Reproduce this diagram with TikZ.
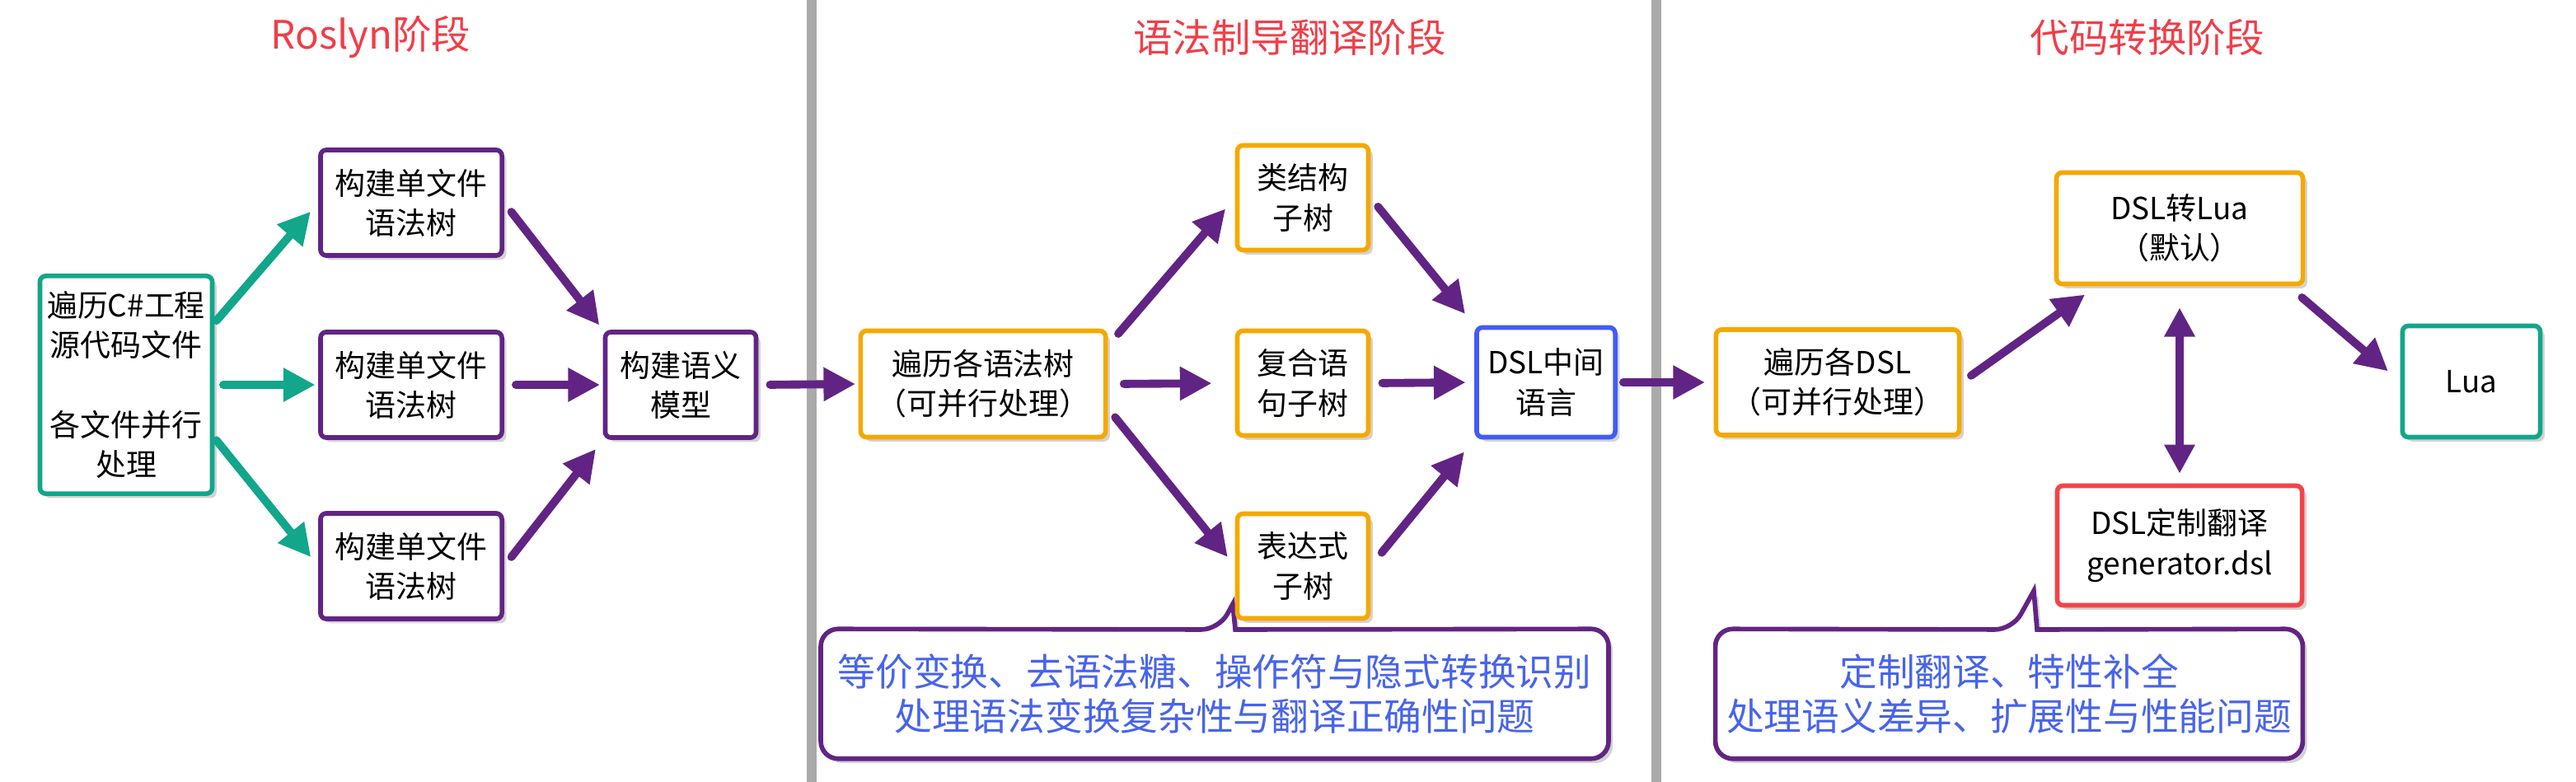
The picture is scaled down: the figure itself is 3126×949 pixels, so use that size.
\documentclass[tikz,border=0pt]{standalone}
\usepackage{fontspec}
\setmainfont{Noto Sans CJK SC}
\usepackage{tikz}
\usetikzlibrary{arrows.meta,shadows,backgrounds}
\definecolor{StageRed}{RGB}{240,62,72}
\definecolor{FlowTeal}{RGB}{18,166,138}
\definecolor{FlowPurple}{RGB}{98,36,132}
\definecolor{StepOrange}{RGB}{245,168,0}
\definecolor{DslBlue}{RGB}{66,92,245}
\definecolor{GenRed}{RGB}{242,68,72}
\definecolor{NoteBlue}{RGB}{72,100,235}
\definecolor{DividerGray}{RGB}{170,170,170}

\begin{document}
\begin{tikzpicture}[
x=0.01cm, y=-0.01cm,
box/.style={
draw,
line width=1.6pt,
rounded corners=2pt,
fill=white,
align=center,
inner sep=0pt,
font=\fontsize{10.5pt}{13.7pt}\selectfont,
drop shadow={shadow xshift=1.5pt,shadow yshift=-1.5pt,opacity=0.35}
},
srcbox/.style={box,draw=FlowTeal},
treebox/.style={box,draw=FlowPurple,minimum width=2.2cm,minimum height=1.28cm},
stepbox/.style={box,draw=StepOrange},
dslbox/.style={box,draw=DslBlue},
genbox/.style={box,draw=GenRed},
title/.style={text=StageRed,font=\fontsize{13.5pt}{16pt}\selectfont},
divider/.style={draw=DividerGray,line width=3.4pt},
flow/.style={
line width=2.8pt,
line cap=round,
-{Triangle[length=11pt,width=11pt]},
shorten <=4pt,
shorten >=4pt
},
garrow/.style={flow,draw=FlowTeal},
parrow/.style={flow,draw=FlowPurple},
note/.style={
text=NoteBlue,
align=center,
inner sep=0pt,
minimum height=1.56cm,
font=\fontsize{13pt}{15.4pt}\selectfont
},
noteline/.style={
draw=FlowPurple,
line width=1.6pt,
fill=white,
drop shadow={shadow xshift=1.5pt,shadow yshift=-1.5pt,opacity=0.35}
}
]
\useasboundingbox (0,0) rectangle (3126,949);

% stage dividers
\draw[divider] (985,0) -- (985,949);
\draw[divider] (2010,0) -- (2010,949);

% stage titles
\node[title] (t1) at (450,45) {Roslyn阶段};
\node[title] (t2) at (1565,45) {语法制导翻译阶段};
\node[title] (t3) at (2606,45) {代码转换阶段};

% Roslyn
\node[srcbox,minimum width=2.09cm,minimum height=2.64cm] (src) at (153,467)
{遍历C\#工程\\源代码文件\\[13.7pt]各文件并行\\处理};
\node[treebox] (tree1) at (499,246) {构建单文件\\语法树};
\node[treebox] (tree2) at (499,467) {构建单文件\\语法树};
\node[treebox] (tree3) at (499,687) {构建单文件\\语法树};
\node[box,draw=FlowPurple,minimum width=1.83cm,minimum height=1.28cm] (sem) at (826,467) {构建语义\\模型};

% syntax directed translation
\node[stepbox,minimum width=2.97cm,minimum height=1.29cm] (walk) at (1193,466) {遍历各语法树\\（可并行处理）};
\node[stepbox,minimum width=1.59cm,minimum height=1.27cm] (cls) at (1581,240) {类结构\\子树};
\node[stepbox,minimum width=1.59cm,minimum height=1.27cm] (cmp) at (1581,465) {复合语\\句子树};
\node[stepbox,minimum width=1.59cm,minimum height=1.27cm] (expr) at (1581,687) {表达式\\子树};
\node[dslbox,minimum width=1.68cm,minimum height=1.33cm] (dsl) at (1876,464) {DSL中间\\语言};

% code conversion
\node[stepbox,minimum width=2.95cm,minimum height=1.28cm] (walkdsl) at (2230,464) {遍历各DSL\\（可并行处理）};
\node[stepbox,minimum width=2.99cm,minimum height=1.35cm] (tolua) at (2645,277) {DSL转Lua\\（默认）};
\node[srcbox,minimum width=1.67cm,minimum height=1.35cm] (lua) at (2999,463) {Lua};
\node[genbox,minimum width=2.97cm,minimum height=1.45cm] (custom) at (2645,662) {DSL定制翻译\\generator.dsl};

% notes
\node[note,minimum width=9.54cm] (note1) at (1474,842)
{等价变换、去语法糖、操作符与隐式转换识别\\处理语法变换复杂性与翻译正确性问题};
\node[note,minimum width=7.11cm] (note2) at (2438,842)
{定制翻译、特性补全\\处理语义差异、扩展性与性能问题};
\coordinate (tip1) at (1496,733);
\coordinate (tip2) at (2468,717);
\begin{scope}[on background layer]
\draw[noteline] (note1.west) [rounded corners=6pt] -- (note1.north west) -- (1479,764)
[sharp corners] -- (tip1) -- (1499,764) [rounded corners=6pt] -- (note1.north east)
-- (note1.south east) -- (note1.south west) -- cycle;
\draw[noteline] (note2.west) [rounded corners=6pt] -- (note2.north west) -- (2442,764)
[sharp corners] -- (tip2) -- (2472,764) [rounded corners=6pt] -- (note2.north east)
-- (note2.south east) -- (note2.south west) -- cycle;
\end{scope}

% arrows
\draw[garrow,shorten <=1pt] (src.35) -- (tree1.west);
\draw[garrow,shorten <=3pt,shorten >=1pt] (src.east) -- (tree2.west);
\draw[garrow,shorten <=1pt] (src.-31) -- (tree3.west);
\draw[parrow,shorten >=2pt] (tree1.east) -- (sem.north west);
\draw[parrow,shorten >=1pt] (tree2.east) -- (sem.west);
\draw[parrow] (tree3.east) -- (sem.south west);
\draw[parrow,shorten >=1pt] (sem.east) -- (walk.west);
\draw[parrow,shorten <=5.5pt,shorten >=5pt] (walk.17) -- (cls.west);
\draw[parrow,shorten <=5.5pt,shorten >=8pt] (walk.east) -- (cmp.west);
\draw[parrow] (walk.-11) -- (expr.west);
\draw[parrow,shorten >=5pt] (cls.east) -- (dsl.north west);
\draw[parrow,shorten >=3pt] (cmp.east) -- (dsl.west);
\draw[parrow,shorten <=6pt,shorten >=5.5pt] (expr.east) -- (dsl.south west);
\draw[parrow,shorten <=2pt,shorten >=3pt] (dsl.east) -- (walkdsl.west);
\draw[parrow,shorten >=5pt] (walkdsl.east) -- (tolua.-145);
\draw[parrow,shorten <=6pt,shorten >=5.5pt] (tolua.-28) -- (lua.west);
\draw[parrow,{Triangle[length=10pt,width=10pt]}-{Triangle[length=10pt,width=10pt]},
shorten <=7.4pt,shorten >=3.4pt] (tolua.south) -- (custom.north);

\end{tikzpicture}
\end{document}
